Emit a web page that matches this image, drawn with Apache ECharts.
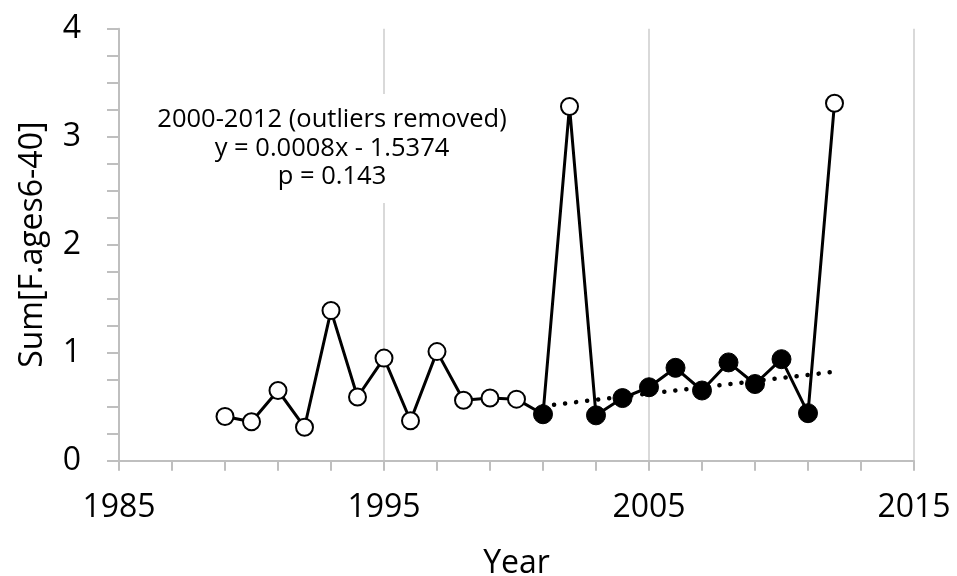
<!DOCTYPE html>
<html>
<head>
<meta charset="utf-8">
<title>Sum[F.ages6-40] by year</title>
<script src="https://cdn.jsdelivr.net/npm/echarts@6/dist/echarts.min.js"></script>
<style>
  html, body { margin: 0; padding: 0; background: #fff; }
  #chart { width: 957px; height: 576px; }
</style>
</head>
<body>
<div id="chart"></div>
<script>
// Survey years and the summed fishing mortality (ages 6-40)
const years = [1989, 1990, 1991, 1992, 1993, 1994, 1995, 1996, 1997, 1998, 1999, 2000,
               2001, 2002, 2003, 2004, 2005, 2006, 2007, 2008, 2009, 2010, 2011, 2012];
const sumF = [0.41, 0.36, 0.65, 0.31, 1.39, 0.59, 0.95, 0.37, 1.01, 0.56, 0.58, 0.57,
              0.43, 3.28, 0.42, 0.58, 0.68, 0.86, 0.65, 0.91, 0.71, 0.94, 0.44, 3.31];
// Years used in the 2000-2012 trend (outliers 2002 and 2012 left out); drawn as filled markers
const trendYears = [2001, 2003, 2004, 2005, 2006, 2007, 2008, 2009, 2010, 2011];
const trendRange = [2001, 2012];
const annotationLines = ['2000-2012 (outliers removed)', 'y = 0.0008x - 1.5374', 'p = 0.143'];

const FONT = '"Open Sans", "Liberation Sans", sans-serif';

// Least-squares fit over the trend years
const fitPts = trendYears.map(y => [y, sumF[years.indexOf(y)]]);
const n = fitPts.length;
const mx = fitPts.reduce((s, p) => s + p[0], 0) / n;
const my = fitPts.reduce((s, p) => s + p[1], 0) / n;
const sxy = fitPts.reduce((s, p) => s + (p[0] - mx) * (p[1] - my), 0);
const sxx = fitPts.reduce((s, p) => s + (p[0] - mx) * (p[0] - mx), 0);
const slope = sxy / sxx;
const fitLine = trendRange.map(x => [x, my + slope * (x - mx)]);

const points = years.map((y, i) => {
  const filled = trendYears.includes(y);
  return {
    value: [y, sumF[i]],
    symbolSize: filled ? 19 : 17,
    itemStyle: {
      color: filled ? '#000' : '#fff',
      borderColor: '#000',
      borderWidth: filled ? 1 : 2
    }
  };
});

const axisGray = '#bfbfbf';

const chart = echarts.init(document.getElementById('chart'), null, { renderer: 'canvas' });
chart.setOption({
  animation: false,
  backgroundColor: '#fff',
  grid: {
    left: 119, right: 43, top: 28.7, bottom: 115.3,
    containLabel: false,
    outerBoundsMode: 'none'
  },
  xAxis: {
    type: 'value',
    min: 1985, max: 2015, interval: 10,
    name: 'Year',
    nameLocation: 'middle',
    nameGap: 87,
    nameTextStyle: { fontFamily: FONT, fontSize: 32, color: '#000' },
    axisLine: { show: true, lineStyle: { color: axisGray, width: 2 } },
    axisTick: { show: true, inside: false, length: 10, lineStyle: { color: axisGray, width: 2 } },
    minorTick: { show: true, splitNumber: 5, length: 10, lineStyle: { color: axisGray, width: 2 } },
    axisLabel: {
      fontFamily: FONT, fontSize: 32, color: '#000', margin: 31,
      formatter: v => String(v)
    },
    splitLine: { show: true, lineStyle: { color: '#d9d9d9', width: 2 } },
    minorSplitLine: { show: false }
  },
  yAxis: {
    type: 'value',
    min: 0, max: 4, interval: 1,
    name: 'Sum[F.ages6-40]',
    nameLocation: 'middle',
    nameGap: 70,
    nameTextStyle: { fontFamily: FONT, fontSize: 32, color: '#000' },
    axisLine: { show: true, lineStyle: { color: axisGray, width: 2 } },
    axisTick: { show: true, inside: false, length: 12, lineStyle: { color: axisGray, width: 2 } },
    minorTick: { show: true, splitNumber: 4, length: 12, lineStyle: { color: axisGray, width: 2 } },
    axisLabel: { fontFamily: FONT, fontSize: 32, color: '#000', margin: 38 },
    splitLine: { show: false },
    minorSplitLine: { show: false }
  },
  graphic: [
    {
      type: 'rect',
      shape: { x: 150, y: 94, width: 365, height: 109 },
      style: { fill: '#fff' },
      z: 50
    },
    {
      type: 'text',
      x: 332, y: 148.5,
      z: 51,
      style: {
        text: annotationLines.join('\n'),
        font: '25.5px ' + FONT,
        fill: '#000',
        align: 'center',
        verticalAlign: 'middle',
        lineHeight: 28.5
      }
    }
  ],
  series: [
    {
      name: 'trend',
      type: 'line',
      data: fitLine,
      showSymbol: false,
      symbol: 'none',
      lineStyle: { color: '#000', width: 4.5, type: [0.1, 11], cap: 'round' },
      z: 2
    },
    {
      name: 'Sum F',
      type: 'line',
      data: points,
      symbol: 'circle',
      showAllSymbol: true,
      lineStyle: { color: '#000', width: 3 },
      z: 3
    }
  ]
});
</script>
</body>
</html>
